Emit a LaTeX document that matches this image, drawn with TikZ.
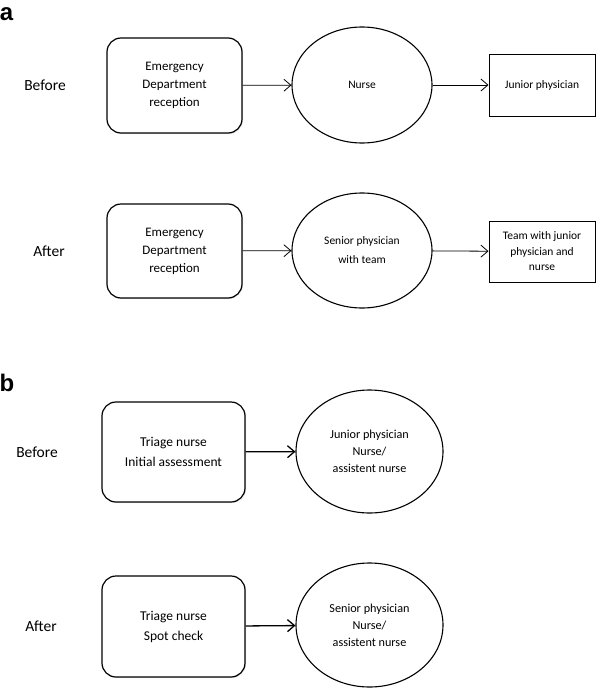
\documentclass[tikz,border=0pt]{standalone}
\usepackage{fontspec}
\setmainfont{Carlito}
\newfontfamily\labelfont{Liberation Sans}
\usetikzlibrary{arrows.meta,shapes.geometric,shadows,positioning}
\tikzset{roundbox/.style={draw,rectangle,rounded corners=14pt,line width=1.2pt,inner sep=0,align=center,
        font=\fontsize{13}{18}\selectfont,drop shadow={shadow xshift=1pt,shadow yshift=-1pt,opacity=0.2}},
    plainbox/.style={draw,rectangle,line width=1pt,inner sep=0,align=center,fill=white,
        font=\fontsize{11.5}{15.5}\selectfont,drop shadow={shadow xshift=1pt,shadow yshift=-1pt,opacity=0.2}},
    oval/.style={draw,ellipse,line width=1.1pt,inner sep=0,align=center,font=\fontsize{11.5}{18}\selectfont},
    rowlabel/.style={inner sep=0,font=\fontsize{15.5}{18}\selectfont},
    panellabel/.style={inner sep=0,font=\labelfont\bfseries\fontsize{24}{24}\selectfont},
    flowarrow/.style={-{Straight Barb[length=7pt,width=12pt]},line width=0.8pt}
}

\begin{document}
\begin{tikzpicture}[x=1pt,y=-1pt]

\useasboundingbox (0,0) rectangle (600,688);

% panel a
\node [panellabel] (pa) at (6.5,14) {a};

\node [rowlabel] (abefore) at (45,85) {Before};
\node [rowlabel] (aafter) at (49,251) {After};

\node (ed1) [roundbox,fill=white,minimum width=135pt,minimum height=95pt] at (174.5,85.5)
    {Emergency\\Department\\reception};
\node (nurse) [oval,minimum width=140pt,minimum height=116pt] at (362,85) {Nurse};
\node (junior) [plainbox,minimum width=106pt,minimum height=62pt] at (542,85) {Junior physician};

\node (ed2) [roundbox,fill=white,minimum width=135pt,minimum height=94pt] at (174.5,251)
    {Emergency\\Department\\reception};
\node (senior) [oval,minimum width=140pt,minimum height=115pt,font=\fontsize{11.5}{19}\selectfont] at (362,250.5)
    {Senior physician\\with team};
\node (team) [plainbox,minimum width=106pt,minimum height=61pt] at (542,251.5)
    {Team with junior\\physician and\\nurse};

\foreach \from/\to in {ed1/nurse,nurse/junior,ed2/senior,senior/team}
    \draw [flowarrow] (\from) -- (\to);

% panel b
\node [panellabel] (pb) at (7,383) {b};

\node [rowlabel] (bbefore) at (37,452) {Before};
\node [rowlabel] (bafter) at (41,626) {After};

\node (triage1) [roundbox,fill=white,minimum width=143pt,minimum height=100pt,font=\fontsize{13.5}{20}\selectfont] at (173.5,452)
    {Triage nurse\\Initial assessment};
\node (juniorteam) [oval,minimum width=147pt,minimum height=123pt,font=\fontsize{12.2}{17}\selectfont] at (369.5,451.5)
    {Junior physician\\Nurse/\\assistent nurse};

\node (triage2) [roundbox,fill=white,minimum width=143pt,minimum height=101pt,font=\fontsize{13.5}{20}\selectfont] at (173.5,626.5)
    {Triage nurse\\Spot check};
\node (seniorteam) [oval,minimum width=147pt,minimum height=124pt,font=\fontsize{12.2}{17}\selectfont] at (369.5,625)
    {Senior physician\\Nurse/\\assistent nurse};

\foreach \from/\to in {triage1/juniorteam,triage2/seniorteam}
    \draw [flowarrow,line width=1.3pt] (\from) -- (\to);

\end{tikzpicture}
\end{document}
